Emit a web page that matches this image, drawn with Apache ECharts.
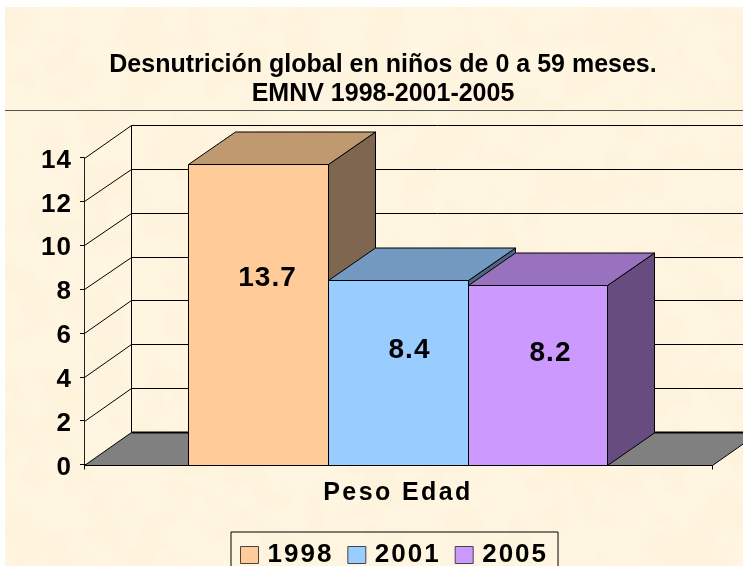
<!DOCTYPE html>
<html>
<head>
<meta charset="utf-8">
<script src="https://cdn.jsdelivr.net/npm/echarts@6/dist/echarts.min.js"></script>
<style>
  html, body { margin: 0; padding: 0; background: #fff; overflow: hidden; }
  #paper {
    position: absolute; left: 5px; top: 7px; width: 738px; height: 559px;
    background-color: #fff6e2;
    background-image: url("data:image/svg+xml,%3Csvg xmlns='http://www.w3.org/2000/svg' width='738' height='559'%3E%3Cfilter id='n' x='0' y='0' width='100%25' height='100%25'%3E%3CfeTurbulence type='fractalNoise' baseFrequency='0.025' numOctaves='3' seed='4'/%3E%3CfeColorMatrix values='0 0 0 0 0.93 0 0 0 0 0.76 0 0 0 0 0.5 0.4 0 0 0 -0.13'/%3E%3C/filter%3E%3Crect width='738' height='559' filter='url(%23n)'/%3E%3C/svg%3E");
  }
  #view { position: absolute; left: 0; top: 0; width: 743px; height: 566px; }
</style>
</head>
<body>
<div id="paper"></div>
<div id="view"></div>
<script>
var categories = ['Peso Edad'];
var years = ['1998', '2001', '2005'];
var values1998 = [13.7];
var values2001 = [8.4];
var values2005 = [8.2];
var yTicks = [0, 2, 4, 6, 8, 10, 12, 14];
var titleLines = ['Desnutrición global en niños de 0 a 59 meses.', 'EMNV 1998-2001-2005'];

var barColors = ['#ffcc99', '#99ccff', '#cc99ff'];
var topColors = ['#bf9970', '#7299bf', '#9972bf'];
var sideColors = ['#7f6650', '#4c667f', '#664c7f'];

// 3d look of the old chart: how far the back wall sits from the front plane
var depthX = 47;
var depthY = 32.5;
var labelDx = [9, 11, 12.5];
var labelHeight = 0.622;

// canvas letter spacing for the texts that are spaced out in the original
var spaced = {
  'Peso Edad': '2.4px',
  '1998': '2px', '2001': '2px', '2005': '2px',
  '13.7': '1px', '8.4': '1px', '8.2': '1px',
  '14': '1px', '12': '1px', '10': '1px', '8': '1px', '6': '1px', '4': '1px', '2': '1px', '0': '1px'
};
var fillTextOrig = CanvasRenderingContext2D.prototype.fillText;
CanvasRenderingContext2D.prototype.fillText = function (t, x, y) {
  this.letterSpacing = spaced[t] || '0px';
  fillTextOrig.call(this, t, x, y);
  this.letterSpacing = '0px';
};

function crisp(v) { return Math.round(v) + 0.5; }

function renderWall(params, api) {
  var p = api.coord([0, api.value(0)]);
  var size = api.size([1, 0])[0];
  var left = crisp(p[0] - size / 2);
  var y = crisp(p[1]);
  var backX = left + depthX;
  var backY = crisp(p[1] - depthY);
  var lineStyle = { stroke: '#000', lineWidth: 1, fill: null };
  var children = [];
  if (api.value(0) === 0) {
    var zeroRight = left + size;
    children.push({
      type: 'polygon',
      shape: { points: [[left, y], [backX, backY], [zeroRight + depthX, backY], [zeroRight, y]] },
      style: { fill: '#808080', stroke: '#000', lineWidth: 1 }
    });
    children.push({
      type: 'line',
      shape: { x1: backX, y1: backY, x2: zeroRight + depthX, y2: backY },
      style: { stroke: '#000', lineWidth: 2 }
    });
    var topY = crisp(api.coord([0, yTicks[yTicks.length - 1]])[1] - depthY);
    children.push({
      type: 'line',
      shape: { x1: backX, y1: backY, x2: backX, y2: topY },
      style: lineStyle
    });
  } else {
    children.push({
      type: 'line',
      shape: { x1: left, y1: y, x2: backX, y2: backY },
      style: lineStyle
    });
    children.push({
      type: 'line',
      shape: { x1: backX, y1: backY, x2: left + size + depthX, y2: backY },
      style: lineStyle
    });
  }
  return { type: 'group', children: children };
}

function renderBar(params, api) {
  var i = params.seriesIndex - 1;
  var val = api.value(1);
  var band = api.size([1, 0])[0];
  var w = band / 4.5;
  var base = api.coord([api.value(0), 0]);
  var top = api.coord([api.value(0), val]);
  var x0 = Math.round(base[0] - 1.5 * w + i * w - 0.2) + 0.5;
  var x1 = Math.round(base[0] - 1.5 * w + (i + 1) * w - 0.2) + 0.5;
  var y0 = crisp(base[1]);
  var y1 = crisp(top[1]);
  var edge = { stroke: '#000', lineWidth: 1 };
  return {
    type: 'group',
    children: [
      {
        type: 'polygon',
        shape: { points: [[x1, y0], [x1, y1], [x1 + depthX, y1 - depthY], [x1 + depthX, y0 - depthY]] },
        style: Object.assign({ fill: sideColors[i] }, edge)
      },
      {
        type: 'polygon',
        shape: { points: [[x0, y1], [x0 + depthX, y1 - depthY], [x1 + depthX, y1 - depthY], [x1, y1]] },
        style: Object.assign({ fill: topColors[i] }, edge)
      },
      {
        type: 'rect',
        shape: { x: x0, y: y1, width: x1 - x0, height: y0 - y1 },
        style: Object.assign({ fill: barColors[i] }, edge)
      },
      {
        type: 'text',
        x: (x0 + x1) / 2 + labelDx[i],
        y: y0 - (y0 - y1) * labelHeight,
        style: {
          text: String(val),
          fill: '#000',
          font: 'bold 28px "Liberation Sans"',
          textAlign: 'center',
          textVerticalAlign: 'middle'
        }
      }
    ]
  };
}

function barSeries(name, values) {
  return {
    name: name,
    type: 'custom',
    renderItem: renderBar,
    clip: false,
    z: 3,
    encode: { x: 0, y: 1 },
    itemStyle: { color: barColors[years.indexOf(name)] },
    data: values.map(function (v, k) { return [k, v]; })
  };
}

var option = {
  animation: false,
  backgroundColor: 'transparent',
  textStyle: { fontFamily: '"Liberation Sans"' },
  title: {
    text: titleLines.join('\n'),
    left: 378,
    top: 46,
    textAlign: 'center',
    textStyle: { fontSize: 25, fontWeight: 'bold', color: '#000', lineHeight: 29 }
  },
  graphic: [{
    type: 'line',
    shape: { x1: 5, y1: 110.5, x2: 743, y2: 110.5 },
    style: { stroke: '#555', lineWidth: 1 }
  }],
  grid: { left: 84, right: 31, top: 157.5, height: 307, containLabel: false },
  xAxis: {
    type: 'category',
    data: categories,
    axisLine: { show: true, lineStyle: { color: '#000', width: 1 } },
    axisTick: { show: true, length: 5, lineStyle: { color: '#000' } },
    axisLabel: { margin: 16, fontSize: 25, fontWeight: 'bold', color: '#000' }
  },
  yAxis: {
    type: 'value',
    min: 0,
    max: 14,
    interval: 2,
    axisLine: { show: true, lineStyle: { color: '#222', width: 1 } },
    axisTick: { show: true, length: 4, lineStyle: { color: '#000' } },
    axisLabel: { margin: 12, fontSize: 26, fontWeight: 'bold', color: '#000', verticalAlign: 'top', lineHeight: 6 },
    splitLine: { show: false }
  },
  legend: {
    data: years,
    left: 231,
    top: 532,
    padding: [10, 18, 13, 9],
    backgroundColor: 'transparent',
    borderColor: '#000',
    borderWidth: 1,
    borderRadius: 0,
    itemWidth: 18,
    itemHeight: 17,
    itemGap: 22,
    icon: 'rect',
    itemStyle: { borderColor: '#444', borderWidth: 1 },
    textStyle: { fontSize: 26, fontWeight: 'bold', color: '#000', padding: [0, 0, 0, 4] }
  },
  series: [
    {
      name: 'pared',
      type: 'custom',
      renderItem: renderWall,
      clip: false,
      z: 1,
      encode: { y: 0 },
      silent: true,
      data: yTicks.map(function (t) { return [t]; })
    },
    barSeries('1998', values1998),
    barSeries('2001', values2001),
    barSeries('2005', values2005)
  ]
};

echarts.init(document.getElementById('view')).setOption(option);
</script>
</body>
</html>
